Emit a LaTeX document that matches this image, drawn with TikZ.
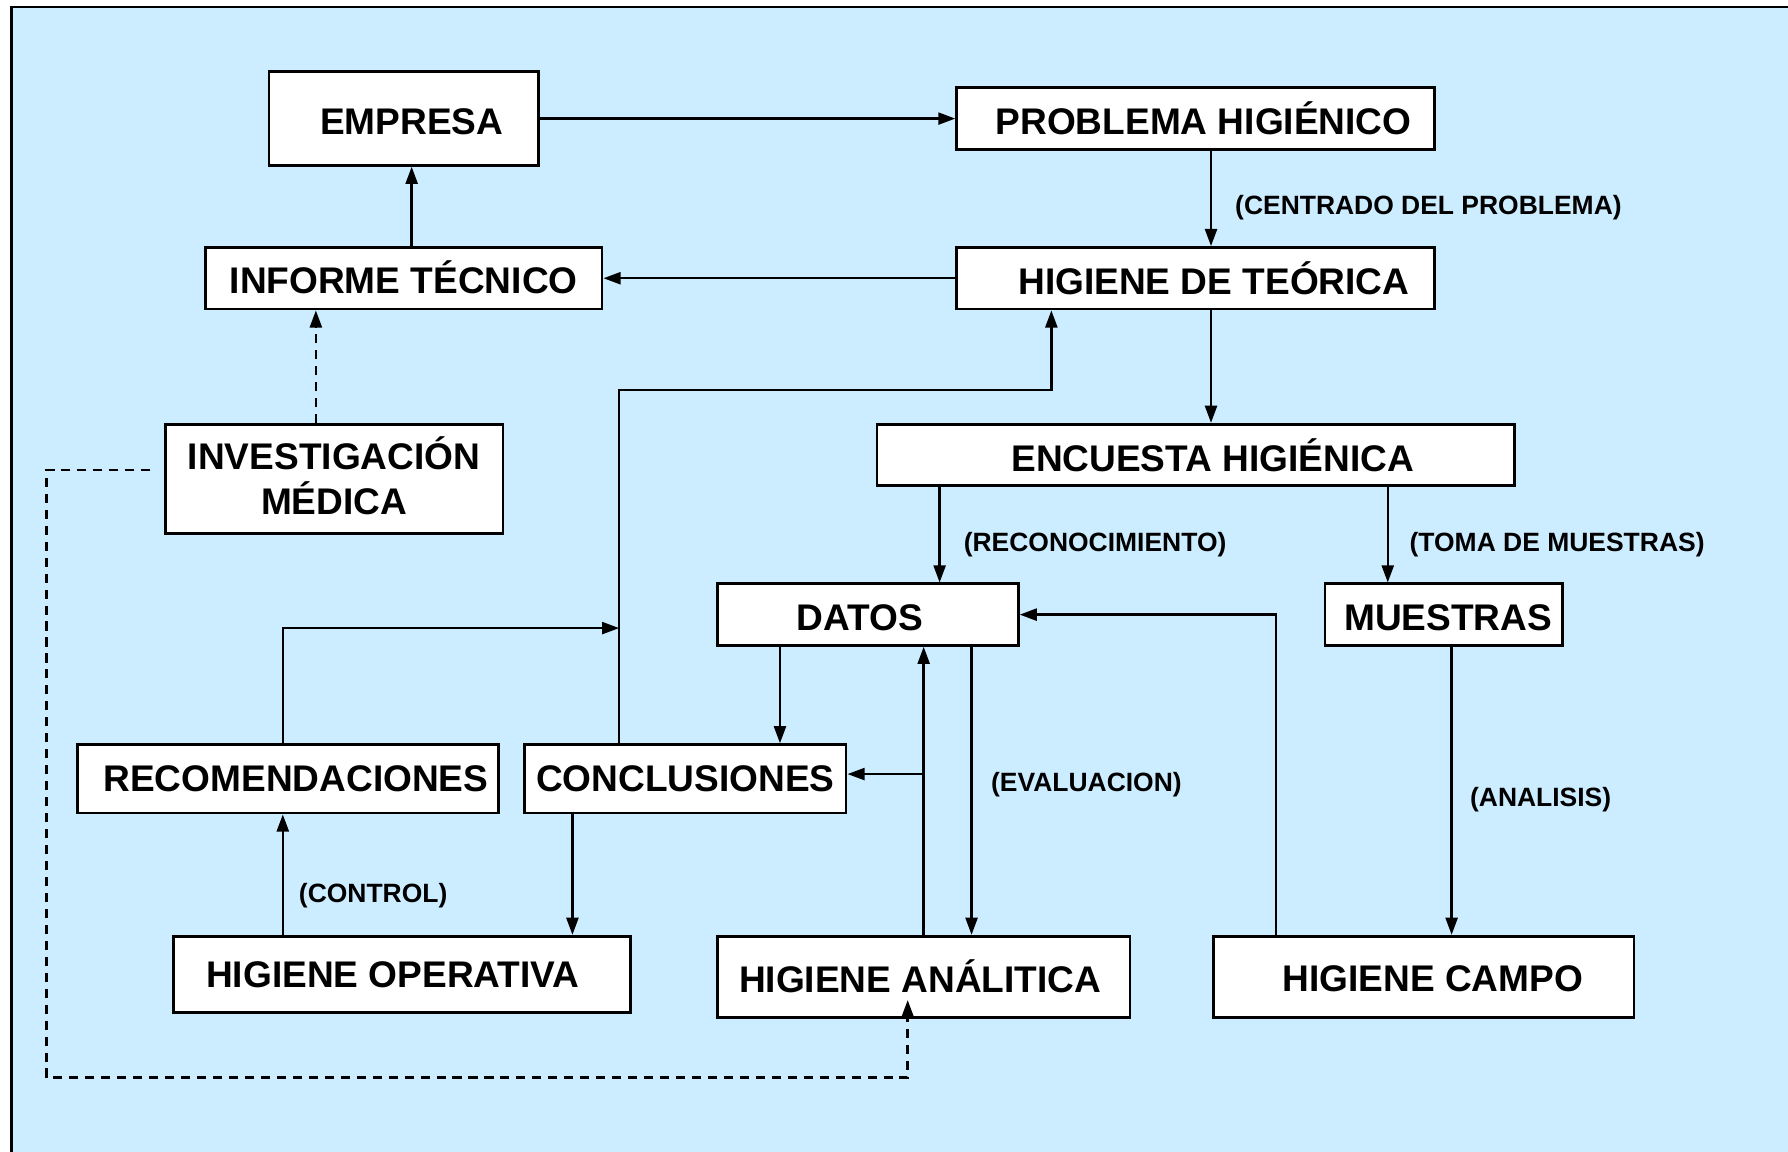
\documentclass[tikz,border=0pt]{standalone}
\usepackage{fontspec}
\setmainfont{Liberation Sans}
\usetikzlibrary{arrows.meta}
\definecolor{bgblue}{HTML}{CCECFF}
\newcommand{\shiftv}[2]{\raisebox{#1}[\height][\depth]{#2}}
\begin{document}
\begin{tikzpicture}[x=1pt,y=-1pt,
  box/.style={draw=black,line width=2.4pt,fill=white,inner sep=0pt,
    font=\bfseries\fontsize{32.5}{38}\selectfont,align=center},
  lbl/.style={inner sep=0pt,anchor=west,font=\bfseries\fontsize{23.2}{27}\selectfont},
  arr/.style={line width=2.1pt,-{Triangle[length=15pt,width=10.5pt]}},
  dsh/.style={line width=2.1pt,dash pattern=on 8pt off 6pt,-{Triangle[length=15pt,width=10.5pt]}}]
\useasboundingbox (0,0) rectangle (1568,1010);
\fill[white] (0,0) rectangle (1568,1010);
\fill[bgblue] (10,6) rectangle (1568,1010);
\draw[line width=2pt] (10,1010) -- (10,6) -- (1568,6);

% boxes
\node[box,minimum width=236pt,minimum height=82pt] (emp) at (354,104) {\shiftv{-3pt}{\hspace*{14pt}EMPRESA}};
\node[box,minimum width=419pt,minimum height=54pt] (prob) at (1048.5,104) {\hspace*{14pt}PROBLEMA HIGIÉNICO};
\node[box,minimum width=348pt,minimum height=54pt] (inf) at (354,244) {\shiftv{1pt}{INFORME TÉCNICO}};
\node[box,minimum width=419pt,minimum height=54pt] (teo) at (1048.5,244) {\hspace*{32pt}HIGIENE DE TEÓRICA};
\node[box,minimum width=296pt,minimum height=96pt] (inv) at (293,420) {\shiftv{-2.5pt}{\begin{tabular}{@{}c@{}}INVESTIGACIÓN\\[-1pt]MÉDICA\end{tabular}}};
\node[box,minimum width=559pt,minimum height=54pt] (enc) at (1048.5,399) {\hspace*{30pt}ENCUESTA HIGIÉNICA};
\node[box,minimum width=264pt,minimum height=54pt] (dat) at (761,539) {\shiftv{-3pt}{DATOS\hspace*{14pt}}};
\node[box,minimum width=208pt,minimum height=54pt] (mue) at (1266,539) {\shiftv{-3pt}{\hspace*{8pt}MUESTRAS}};
\node[box,minimum width=369pt,minimum height=60pt] (rec) at (252.5,683) {\hspace*{14pt}RECOMENDACIONES};
\node[box,minimum width=282pt,minimum height=60pt] (con) at (601,683) {CONCLUSIONES};
\node[box,minimum width=401pt,minimum height=67pt] (ope) at (352.5,854.5) {HIGIENE OPERATIVA\hspace*{16pt}};
\node[box,minimum width=362pt,minimum height=71pt] (ana) at (810,856.5) {HIGIENE ANÁLITICA\hspace*{6pt}};
\node[box,minimum width=369pt,minimum height=71pt] (cam) at (1248.5,856.5) {\shiftv{-2pt}{\hspace*{16pt}HIGIENE CAMPO}};

% labels
\node[lbl] (lcen) at (1083,182) {(CENTRADO DEL PROBLEMA)};
\node[lbl] (lrec) at (845,477.5) {(RECONOCIMIENTO)};
\node[lbl] (ltom) at (1236,477.5) {(TOMA DE MUESTRAS)};
\node[lbl] (leva) at (869,688) {(EVALUACION)};
\node[lbl] (lana) at (1289,701.5) {(ANALISIS)};
\node[lbl] (lctl) at (262,785.5) {(CONTROL)};

% connectors
\draw[arr] (emp.east) -- (prob.west);
\draw[arr] ([xshift=13.5pt]prob.south) -- ([xshift=13.5pt]teo.north);
\draw[arr] (teo.west) -- (inf.east);
\draw[arr] ([xshift=7pt]inf.north) -- ([xshift=7pt]emp.south);
\draw[dsh] ([xshift=-16pt]inv.north) -- ([xshift=-77pt]inf.south);
\draw[arr] ([xshift=13.5pt]teo.south) -- ([xshift=13.5pt]enc.north);
\draw[arr] ([xshift=-58pt]con.north) -- ++(0,-310) -| ([xshift=-126.5pt]teo.south);
\coordinate (jh) at ([xshift=-58pt,yshift=101pt]con.north);
\draw[arr] ([xshift=-4.5pt]rec.north) |- (jh);
\draw[arr] ([xshift=-224.5pt]enc.south) -- ([xshift=63pt]dat.north);
\draw[arr] ([xshift=168.5pt]enc.south) -- ([xshift=-49pt]mue.north);
\draw[arr] ([xshift=-77pt]dat.south) -- ([xshift=83pt]con.north);
\draw[arr] (ana.north) -- ([xshift=49pt]dat.south);
\coordinate (jl) at ([yshift=141pt]ana.north);
\draw[arr] (jl) -- (jl -| con.east);
\draw[arr] ([xshift=91pt]dat.south) -- ([xshift=42pt]ana.north);
\draw[arr] ([xshift=-129.5pt]cam.north) |- (dat.east);
\draw[arr] ([xshift=7pt]mue.south) -- ([xshift=24.5pt]cam.north);
\draw[arr] ([xshift=-99pt]con.south) -- ([xshift=149.5pt]ope.north);
\draw[arr] ([xshift=-104.5pt]ope.north) -- ([xshift=-4.5pt]rec.south);
\coordinate (ds) at ([xshift=-12pt,yshift=8pt]inv.west);
\coordinate (de) at ([xshift=-14pt,yshift=-20.5pt]ana.center);
\draw[dsh] (ds) -- ++(-91,0) -- ++(0,533) -| (de);
\end{tikzpicture}
\end{document}
